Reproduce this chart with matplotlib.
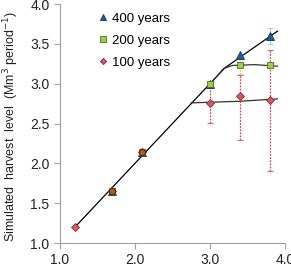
import matplotlib
matplotlib.use('Agg')
import matplotlib.pyplot as plt
import numpy as np

plt.rcParams['font.family'] = ['Liberation Sans', 'DejaVu Sans']

# scenario points (x = harvest target, y = simulated harvest level)
x_400 = [1.7, 2.1, 3.0, 3.4, 3.8]
y_400 = [1.65, 2.14, 3.0, 3.36, 3.6]
x_200 = [1.7, 2.1, 3.0, 3.4, 3.8]
y_200 = [1.65, 2.14, 3.0, 3.24, 3.23]
x_100 = [1.2, 1.7, 2.1, 3.0, 3.4, 3.8]
y_100 = [1.2, 1.65, 2.14, 2.76, 2.84, 2.79]

# error ranges (lower, upper)
err_100_lo = [0, 0, 0, 0.25, 0.55, 0.89]
err_100_hi = [0, 0, 0, 0.25, 0.27, 0.63]
err_200_x = [3.4]
err_200_y = [3.24]
err_200_e = [0.12]
err_400_x = [3.8]
err_400_y = [3.6]
err_400_e = [0.1]

# points shared by all scenarios
shared_x = [1.7, 2.1]
shared_y = [1.65, 2.14]

# trend lines
line_400_x = [1.2, 3.2, 3.9]
line_400_y = [1.2, 3.2, 3.66]
line_200_x = [3.0, 3.1, 3.18, 3.3, 3.6, 3.9]
line_200_y = [3.0, 3.1, 3.19, 3.23, 3.24, 3.22]
line_100_x = [2.75, 3.4, 3.9]
line_100_y = [2.76, 2.78, 2.81]

fig = plt.figure(figsize=(2.91, 2.74), dpi=100)
ax = fig.add_axes([0.206, 0.113, 0.773, 0.872])

# lines
ax.plot(line_400_x, line_400_y, color='black', lw=0.9, zorder=2)
ax.plot(line_200_x, line_200_y, color='#333333', lw=0.9, zorder=2)
ax.plot(line_100_x, line_100_y, color='#333333', lw=0.9, zorder=2)

# error bars
eb = ax.errorbar(x_100, y_100, yerr=[err_100_lo, err_100_hi], fmt='none',
                 ecolor='#d9474f', elinewidth=0.9, capsize=2.5, capthick=0.6, zorder=3)
for c in eb[2]:
    c.set_linestyle((0, (1.5, 1)))
eb = ax.errorbar(err_200_x, err_200_y, yerr=err_200_e, fmt='none',
                 ecolor='#e8c27a', elinewidth=0.8, capsize=2.5, capthick=0.6, zorder=3)
for c in eb[2]:
    c.set_linestyle((0, (1.5, 1)))
eb = ax.errorbar(err_400_x, err_400_y, yerr=err_400_e, fmt='none',
                 ecolor='#9cc8d8', elinewidth=0.8, capsize=2.5, capthick=0.6, zorder=3)

# markers
ax.plot(x_400, y_400, '^', ms=5.5, mfc='#1f5f9f', mec='#0d2f55', mew=0.6,
        ls='none', label='400 years', zorder=4)
ax.plot(x_200, y_200, 's', ms=5, mfc='#9bcf45', mec='#4f6b1f', mew=0.6,
        ls='none', label='200 years', zorder=5)
ax.plot(x_100, y_100, 'D', ms=4, mfc='#d2596a', mec='#8a2a35', mew=0.6,
        ls='none', label='100 years', zorder=6)
ax.plot(shared_x, shared_y, 'o', ms=4.5, mfc='#b05a1e', mec='#4a2a10', mew=0.7,
        ls='none', zorder=7)

ax.set_xlim(1.0, 4.0)
ax.set_ylim(1.0, 4.0)
ax.set_xticks([1.0, 2.0, 3.0, 4.0])
ax.set_xticklabels(['1.0', '2.0', '3.0', '4.0'])
ax.set_yticks([1.0, 1.5, 2.0, 2.5, 3.0, 3.5, 4.0])
ax.set_yticklabels(['1.0', '1.5', '2.0', '2.5', '3.0', '3.5', '4.0'])
ax.tick_params(axis='both', colors='#a0a0a0', labelcolor='#222222', labelsize=10,
               length=4, width=0.8)
for s in ['top', 'right']:
    ax.spines[s].set_visible(False)
for s in ['left', 'bottom']:
    ax.spines[s].set_color('#a0a0a0')
    ax.spines[s].set_linewidth(0.8)
ax.set_ylabel('Simulated  harvest  level  (Mm$^3$ period$^{-1}$)', fontsize=9,
              color='#222222', labelpad=3)
ax.yaxis.set_label_coords(-0.175, 0.49)

leg = ax.legend(loc='upper left', bbox_to_anchor=(0.12, 1.015), frameon=False,
                fontsize=9.5, handlelength=0.6, handletextpad=0.4, labelspacing=0.75,
                markerscale=0.8)

fig.savefig('out.png', dpi=100)
